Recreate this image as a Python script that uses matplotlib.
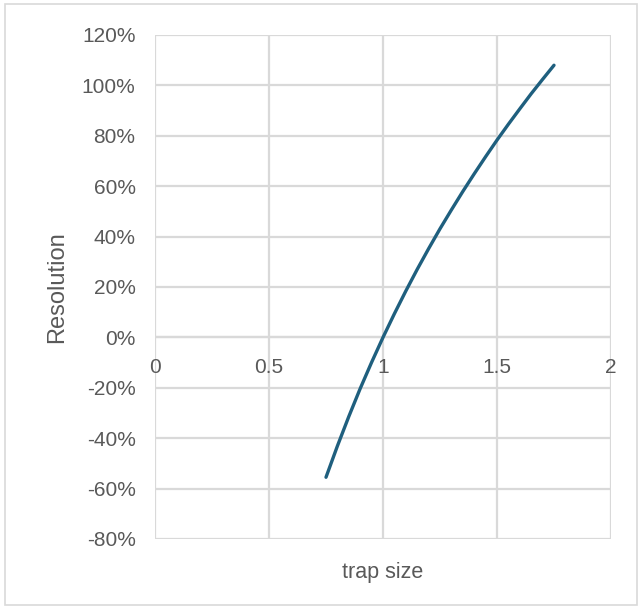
import matplotlib
matplotlib.use("Agg")
import matplotlib.pyplot as plt
from matplotlib.ticker import FuncFormatter, MultipleLocator
from matplotlib.patches import Rectangle

trap_size = [0.75, 0.80, 0.85, 0.90, 0.95, 1.00, 1.05, 1.10, 1.15, 1.20, 1.25,
             1.30, 1.35, 1.40, 1.45, 1.50, 1.55, 1.60, 1.65, 1.70, 1.75]
resolution = [-0.555, -0.431, -0.314, -0.203, -0.099, 0.000, 0.094, 0.184, 0.270, 0.352, 0.431,
              0.506, 0.579, 0.649, 0.717, 0.783, 0.846, 0.907, 0.967, 1.024, 1.080]
x_label = "trap size"
y_label = "Resolution"

TXT = "#595959"
GRID = "#d9d9d9"
plt.rcParams['font.family'] = ['Liberation Sans', 'DejaVu Sans']

fig = plt.figure(figsize=(6.42, 6.09), dpi=100)
fig.patches.append(Rectangle((5/642, 4/609), 632/642, 601/609, transform=fig.transFigure,
                             fill=False, edgecolor=GRID, linewidth=1.2))
ax = fig.add_axes([155/642, 70/609, 456/642, 504/609])

ax.plot(trap_size, resolution, color="#1f5f7e", linewidth=2.4,
        solid_capstyle='round', solid_joinstyle='round')

ax.set_xlim(0, 2)
ax.set_ylim(-0.8, 1.2)
ax.xaxis.set_major_locator(MultipleLocator(0.5))
ax.yaxis.set_major_locator(MultipleLocator(0.2))
ax.yaxis.set_major_formatter(FuncFormatter(lambda v, p: f"{round(v*100):d}%"))
ax.xaxis.set_major_formatter(FuncFormatter(lambda v, p: f"{v:g}"))
ax.grid(True, color=GRID, linewidth=1.6)
ax.set_axisbelow(True)
for s in ax.spines.values():
    s.set_visible(False)
ax.axhline(0, color=GRID, linewidth=1.6, zorder=0.5)

ax.tick_params(axis='both', length=0, labelsize=15, labelcolor=TXT)
ax.tick_params(axis='y', pad=14)
ax.spines['bottom'].set_position(('data', 0))
ax.tick_params(axis='x', pad=15)

ax.set_xlabel(x_label, fontsize=15.5, color=TXT, labelpad=0)
ax.xaxis.set_label_coords(0.5, -0.046)
ax.set_ylabel(y_label, fontsize=17, color=TXT)
ax.yaxis.set_label_coords(-87/456, 0.5)

fig.savefig("out.png", dpi=100)
